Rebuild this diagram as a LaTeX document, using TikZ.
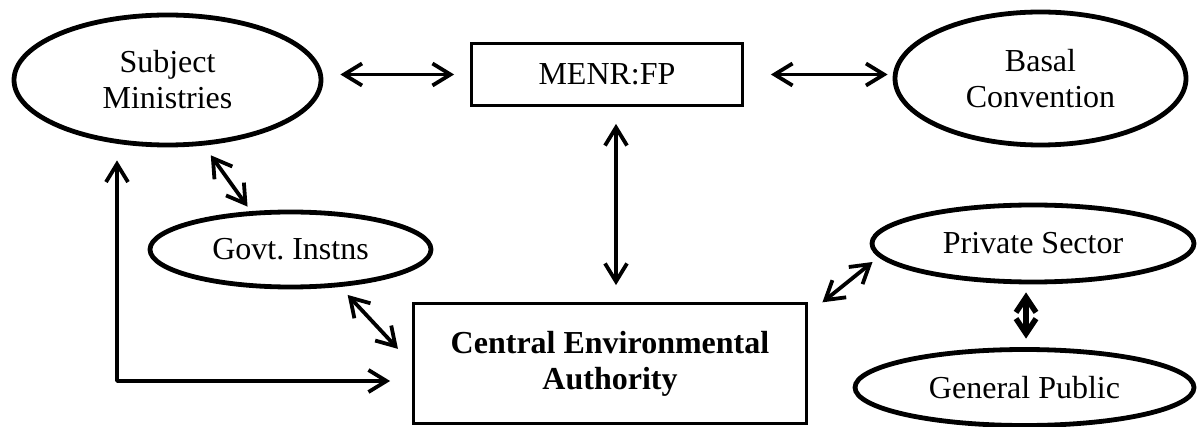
\documentclass[tikz,border=0pt]{standalone}
\usepackage{fontspec}
\setmainfont{Liberation Serif}
\usetikzlibrary{arrows.meta,calc,shapes.geometric}
\begin{document}
\begin{tikzpicture}[x=1pt,y=-1pt,
  txt/.style={align=center, font=\fontsize{32}{36}\selectfont},
  ell/.style={ellipse, draw, line width=4.8pt, inner sep=0pt, txt},
  boxnode/.style={rectangle, draw, line width=3.8pt, inner sep=0pt, txt},
  conn/.style={line width=3.8pt, {Straight Barb[length=18pt,width=22pt]}-{Straight Barb[length=18pt,width=22pt]}, line cap=round, line join=round},
  thickconn/.style={line width=5.5pt, {Straight Barb[length=15pt,width=20pt]}-{Straight Barb[length=15pt,width=20pt]}, line cap=round, line join=round}
]
\useasboundingbox (0,0) rectangle (1198,427);

\node[ell, minimum width=307pt, minimum height=130pt] (sm) at (167.5,80) {Subject\\Ministries};
\node[boxnode, minimum width=271pt, minimum height=62pt] (menr) at (607,74.5) {MENR:FP};
\node[ell, minimum width=291pt, minimum height=133pt] (basal) at (1040.5,78.5) {Basal\\Convention};
\node[ell, minimum width=281pt, minimum height=75pt] (govt) at (290.5,249.5) {Govt.\ Instns};
\node[boxnode, minimum width=393pt, minimum height=120pt, font=\fontsize{32}{36}\selectfont\bfseries] (cea) at (610,363.5) {Central Environmental\\Authority};
\node[ell, minimum width=322pt, minimum height=77pt] (priv) at (1033,243.5) {Private Sector};
\node[ell, minimum width=339pt, minimum height=76pt] (gp) at (1024.5,387.5) {General Public};

\coordinate (corner) at (117,381);

\draw[conn, shorten <=17pt, shorten >=15.5pt] (sm.east |- menr.west) -- (menr.west);
\draw[conn, shorten <=26.5pt, shorten >=5pt] (menr.east) -- (basal.west |- menr.east);
\draw[conn, shorten <=16.5pt, shorten >=16.5pt] ([xshift=9pt]menr.south) -- ([xshift=6pt]cea.north);
\draw[conn, shorten <=12pt, shorten >=5.6pt] (sm.-61) -- (govt.136);
\draw[conn, shorten <=11pt, shorten >=20pt] (govt.-37) -- (cea.west);
\draw[conn, shorten <=13pt, shorten >=21.5pt] (corner |- sm.south) -- (corner) -- (corner -| cea.west);
\draw[conn, shorten <=18pt, shorten >=8pt] ([yshift=-12pt]cea.north east) -- (priv.185);
\draw[thickconn, shorten <=8pt, shorten >=8.5pt] ($(priv.south)+(-7,0)$) -- ($(gp.north)+(1.5,0)$);
\end{tikzpicture}
\end{document}
